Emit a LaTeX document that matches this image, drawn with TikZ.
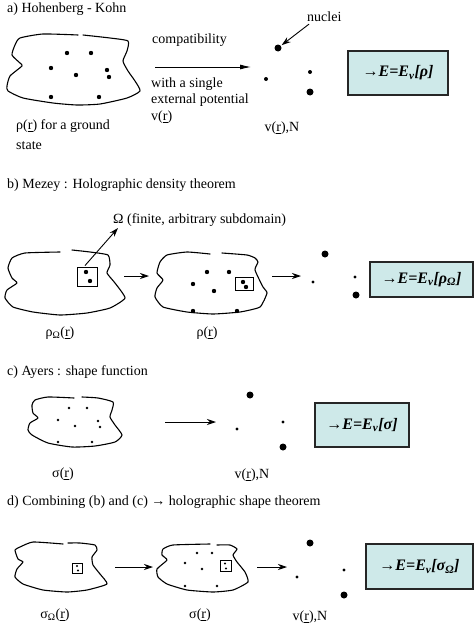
\documentclass[tikz,border=0pt]{standalone}
\usepackage{fontspec}
\setmainfont{Liberation Serif}
\usetikzlibrary{arrows.meta}
\definecolor{boxfill}{RGB}{206,233,233}
\newcommand{\vr}{(\underline{r})}
\newcommand{\Ebox}[1]{→{\bfseries\itshape E=E\textsubscript{v}[#1]}}
\begin{document}
\begin{tikzpicture}[x=1pt,y=-1pt,
  txt/.style={inner sep=0pt, font=\fontsize{14}{16}\selectfont},
  ttl/.style={txt, anchor=west},
  blob/.style={line width=1.1pt, line join=round, line cap=round},
  arr/.style={line width=0.9pt, -{Stealth[length=9pt,width=6pt]}},
  larr/.style={line width=0.9pt, -{Latex[length=11pt,width=5pt]}},
  ebox/.style={draw=black!85, line width=1.1pt, fill=boxfill, inner sep=0pt,
     font=\fontsize{16}{18}\selectfont},
  bign/.style={circle, fill=black, inner sep=0pt, minimum size=7pt},
  smalln/.style={circle, fill=black, inner sep=0pt, minimum size=4pt},
  tinyn/.style={circle, fill=black, inner sep=0pt, minimum size=3.4pt},
  sq/.style={draw, line width=0.9pt, inner sep=0pt}
]
\useasboundingbox (0,0) rectangle (474,629);

% ---------------- a) ----------------
\node[ttl] (ta) at (7,9) {a) Hohenberg - Kohn};
\draw[blob] plot[smooth, tension=0.35] coordinates {(83,35) (110,38) (128,41) (127,51) (123,61) (128,71) (135,81) (140,91) (127,98) (100,104) (77,105) (53,103) (23,98) (8,91) (7,86) (10,76) (22,66) (20,63) (12,55) (15,45) (20,38) (43,34) (78,35)};
\foreach \p in {(67,53),(91,53),(51,68),(76,75),(107,70),(109,77),(51,97),(99,97)}
  \fill \p circle[radius=2.2pt];
\node[ttl] (compat) at (152,40) {compatibility};
\coordinate (a1s) at (155,67);
\coordinate (a1e) at (251,67);
\draw[larr] (a1s) -- (a1e);
\node[ttl] (ws1) at (151,84) {with a single};
\node[ttl] (ws2) at (151,100) {external potential};
\node[ttl] (ws3) at (151,117) {v\vr};
\node[ttl] (nuclab) at (307,17) {nuclei};
\node[bign] (na1) at (278,48) {};
\node[smalln] (na2) at (266,79) {};
\node[smalln] (na3) at (310,72) {};
\node[bign] (na4) at (310,92) {};
\draw[arr, shorten >=1pt] ([xshift=2pt,yshift=-2pt]nuclab.south west) -- (na1);
\node[txt] (vna) at (282,128) {v\vr,N};
\node[ebox, minimum width=100pt, minimum height=44pt] (ea) at (398,73) {\Ebox{ρ}};
\node[ttl] (rho1) at (16,126) {ρ\vr\ for a ground};
\node[ttl] (rho2) at (16,146) {state};

% ---------------- b) ----------------
\node[ttl] (tb) at (7,185) {b) Mezey : Holographic density theorem};
\node[ttl] (omega) at (113,220) {Ω (finite, arbitrary subdomain)};
\draw[blob] plot[smooth, tension=0.3] coordinates {(72,250) (90,252) (108,255) (110,265) (107,273) (115,283) (125,298) (110,308) (87,313) (60,315) (33,312) (13,307) (5,298) (7,290) (17,283) (12,278) (8,268) (12,258) (25,253) (60,252)};
\node[sq, minimum width=20pt, minimum height=19pt] (bq1) at (87,276.5) {};
\fill (86,272) circle[radius=2.2pt] (90,281) circle[radius=2.2pt];
\coordinate (omtip) at (118,228);
\draw[arr] (bq1.north) ++(-2,-1) coordinate (bqs) (bqs) -- (omtip);
\coordinate (b1s) at (124,276);
\coordinate (b1e) at (149,276);
\draw[arr] (b1s) -- (b1e);
\draw[blob] plot[smooth, tension=0.3] coordinates {(222,253) (247,255) (255,258) (258,262) (255,270) (263,287) (267,293) (260,307) (240,312) (213,314) (187,312) (163,307) (155,297) (157,288) (163,280) (157,273) (160,262) (167,255) (187,252) (210,254)};
\foreach \p in {(207,272),(229,272),(193,284),(214,291),(193,311),(237,311)}
  \fill \p circle[radius=2.2pt];
\node[sq, minimum width=18pt, minimum height=13pt] (bq2) at (244,283.5) {};
\fill (243,282) circle[radius=2.2pt] (246,287) circle[radius=2.2pt];
\coordinate (b2s) at (272,276);
\coordinate (b2e) at (301,276);
\draw[arr] (b2s) -- (b2e);
\node[bign] (nb1) at (325,254) {};
\node[tinyn] (nb2) at (313,282) {};
\node[tinyn] (nb3) at (355,277) {};
\node[bign] (nb4) at (356,295) {};
\node[ebox, minimum width=103pt, minimum height=35pt] (eb) at (421.5,279.5) {\Ebox{ρ\textsubscript{Ω}}};
\node[txt] (lb1) at (60,333) {ρ\textsubscript{Ω}\vr};
\node[txt] (lb2) at (207,333) {ρ\vr};

% ---------------- c) ----------------
\node[ttl] (tc) at (7,372) {c) Ayers : shape function};
\draw[blob] plot[smooth, tension=0.35] coordinates {(82,397) (98,398) (113,402) (112,410) (110,417) (115,425) (122,435) (115,442) (95,446) (72,447) (48,443) (32,435) (28,430) (30,423) (38,418) (33,413) (32,405) (35,400) (48,397) (74,398)};
\foreach \p in {(69,408),(87,408),(58,420),(75,426),(98,421),(100,427),(58,442),(92,442)}
  \fill \p circle[radius=1.4pt];
\coordinate (c1s) at (165,422);
\coordinate (c1e) at (216,422);
\draw[arr] (c1s) -- (c1e);
\node[bign] (nc1) at (250,395) {};
\node[tinyn] (nc2) at (237,429) {};
\node[tinyn] (nc3) at (283,422) {};
\node[bign] (nc4) at (283,447) {};
\node[ebox, minimum width=94pt, minimum height=44pt] (ec) at (362,425) {\Ebox{σ}};
\node[txt] (lc1) at (63,474) {σ\vr};
\node[txt] (lc2) at (252,475) {v\vr,N};

% ---------------- d) ----------------
\node[ttl] (td) at (7,502) {d) Combining (b) and (c) → holographic shape theorem};
\draw[blob] plot[smooth, tension=0.3] coordinates {(68,543) (80,543) (95,545) (97,550) (92,557) (93,565) (100,574) (107,584) (87,590) (67,592) (43,590) (23,584) (15,577) (17,569) (23,562) (18,559) (15,550) (20,547) (33,542) (63,544)};
\node[sq, minimum width=10pt, minimum height=10pt] (dq1) at (77,568) {};
\fill (77,566) circle[radius=1.1pt] (78,570.5) circle[radius=1.1pt];
\coordinate (d1s) at (115,567);
\coordinate (d1e) at (153,567);
\draw[arr] (d1s) -- (d1e);
\draw[blob] plot[smooth, tension=0.3] coordinates {(217,545) (230,545) (237,549) (233,555) (237,562) (245,572) (248,582) (233,590) (213,592) (187,590) (167,584) (158,577) (157,569) (167,560) (162,555) (163,549) (173,545) (210,544)};
\foreach \p in {(197,553),(212,553),(185,563),(202,569),(185,586),(217,586)}
  \fill \p circle[radius=1.3pt];
\node[sq, minimum width=11pt, minimum height=11pt] (dq2) at (226,566) {};
\fill (225,563.5) circle[radius=1.1pt] (226,568.5) circle[radius=1.1pt];
\coordinate (d2s) at (257,567);
\coordinate (d2e) at (287,567);
\draw[arr] (d2s) -- (d2e);
\node[bign] (nd1) at (310,543) {};
\node[tinyn] (nd2) at (297,577) {};
\node[tinyn] (nd3) at (344,570) {};
\node[bign] (nd4) at (344,595) {};
\node[ebox, minimum width=107pt, minimum height=45pt] (ed) at (419.5,566.5) {\Ebox{σ\textsubscript{Ω}}};
\node[txt] (ld1) at (55,615) {σ\textsubscript{Ω}\vr};
\node[txt] (ld2) at (200,615) {σ\vr};
\node[txt] (ld3) at (310,617) {v\vr,N};
\end{tikzpicture}
\end{document}
